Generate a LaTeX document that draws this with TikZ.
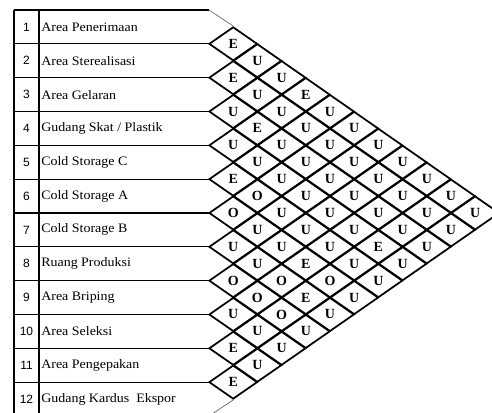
\documentclass[tikz,border=0pt]{standalone}
\usepackage{fontspec}
\setmainfont{Liberation Serif}
\newfontfamily\numfont{Liberation Sans}
\newfontfamily\namefont[FakeStretch=1.08]{Liberation Serif}
\usetikzlibrary{shapes.geometric}

\tikzset{
  rowline/.style={line width=0.8pt},
  numtext/.style={font=\numfont\fontsize{9}{9}\selectfont,inner sep=0pt},
  nametext/.style={font=\namefont\fontsize{9.7}{9.7}\selectfont,inner sep=0pt,anchor=west},
  relbox/.style={draw,diamond,line width=1.3pt,minimum width=36.3pt,minimum height=25.37pt,
    inner sep=0pt,font=\bfseries\fontsize{10.5}{10.5}\selectfont},
}

\begin{document}
\begin{tikzpicture}[x=0.75pt,y=-0.75pt]
  \clip (0,0) rectangle (492,412);
  % table of departments
  \draw[rowline] (14,10) -- (14,416);
  \draw[rowline] (39,10) -- (39,416);
  \foreach \k in {0,...,12}
    \draw[rowline] (14,{10+\k*33.83}) -- (209,{10+\k*33.83});
  \foreach \n/\name [count=\k] in {1/Area Penerimaan,2/Area Sterealisasi,3/Area Gelaran,
      4/{Gudang Skat / Plastik},5/Cold Storage C,6/Cold Storage A,7/Cold Storage B,
      8/Ruang Produksi,9/Area Briping,10/Area Seleksi,11/Area Pengepakan,
      12/Gudang Kardus\ \ Ekspor} {
    \node[numtext] (num\k) at (26.5,{10+(\k-0.5)*33.83}) {\n};
    \node[nametext] (dept\k) at (41,{10+(\k-0.5)*33.83}) {\name};
  }
  % relationship diamonds
  \foreach \i/\rels in {1/{E,U,U,E,U,U,U,U,U,U,U},
      2/{E,U,U,U,U,U,U,U,U,U},
      3/{U,E,U,U,U,U,U,U,U},
      4/{U,U,U,U,U,U,E,U},
      5/{E,O,U,U,U,U,U},
      6/{O,U,U,E,O,U},
      7/{U,U,O,E,U},
      8/{O,O,O,U},
      9/{U,U,U},
      10/{E,U},
      11/{E}}
    \foreach \r [count=\d] in \rels {
      \pgfmathtruncatemacro\j{\i+\d}
      \node[relbox] (rel\i-\j) at ({209+\d*24.2},{10+(2*\i+\d-1)*16.915}) {\r};
    }
  \draw[line width=0.5pt,black!60] (209,10) -- (rel1-2.north);
  \draw[line width=0.5pt,black!60] (209,416) -- (rel11-12.south);
\end{tikzpicture}
\end{document}
